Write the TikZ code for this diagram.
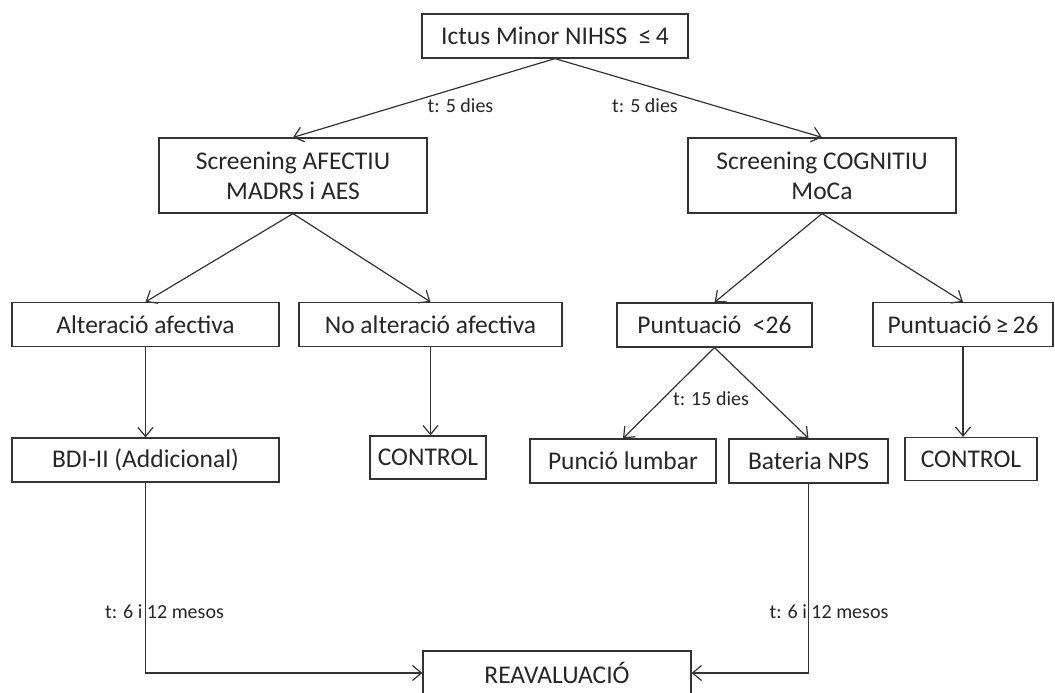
\documentclass[tikz,border=0pt]{standalone}
\usepackage{fontspec}
\setmainfont{Carlito}
\usetikzlibrary{arrows.meta}
\begin{document}
\begin{tikzpicture}[x=1pt,y=-1pt,
  box/.style={draw=black!80, line width=1.2pt, minimum height=44pt, inner sep=0pt,
    align=center, font=\fontsize{25.5}{30}\selectfont, text=black!85},
  arr/.style={draw=black!80, line width=1.2pt, -{Straight Barb[length=9pt,width=15pt]}},
  lab/.style={font=\fontsize{20}{24}\selectfont, text=black!85, inner sep=0pt}]
\useasboundingbox (0,0) rectangle (1055,693);
\clip (0,0) rectangle (1055,693);

\node[box, minimum width=266pt] (top) at (555,36) {Ictus Minor NIHSS\ \ ≤\,4};
\node[box, minimum width=268pt, minimum height=75pt] (aff) at (293,175.5) {Screening AFECTIU\\MADRS i AES};
\node[box, minimum width=268pt, minimum height=75pt] (cog) at (822,175.5) {Screening COGNITIU\\MoCa};

\node[box, minimum width=267pt] (alt) at (145.5,324.5) {Alteració afectiva};
\node[box, minimum width=263pt] (noalt) at (430.5,324.5) {No alteració afectiva};
\node[box, minimum width=195pt] (p26) at (714.5,325) {Puntuació\ \ <26};
\node[box, minimum width=180pt] (pge) at (963,324.5) {Puntuació\,≥\,26};

\node[box, minimum width=267pt] (bdi) at (145.5,460) {BDI-II (Addicional)};
\node[box, minimum width=116pt, minimum height=43pt] (ctrlL) at (428,457.5) {CONTROL};
\node[box, minimum width=186pt] (lumb) at (623,461) {Punció lumbar};
\node[box, minimum width=159pt] (bat) at (808.5,461) {Bateria NPS};
\node[box, minimum width=132pt, minimum height=43pt] (ctrlR) at (971,459) {CONTROL};

\node[box, minimum width=268pt] (reav) at (557,673) {REAVALUACIÓ};

\draw[arr] (top.south) -- (aff.north);
\draw[arr] (top.south) -- (cog.north);
\draw[arr] (aff.south) -- (alt.north);
\draw[arr] (aff.south) -- (noalt.north);
\draw[arr] (cog.south) -- (p26.north);
\draw[arr] (cog.south) -- (pge.north);
\draw[arr] (alt.south) -- (bdi.north);
\draw[arr] (noalt.south) -- (noalt.south |- ctrlL.north);
\draw[arr] (p26.south) -- (lumb.north);
\draw[arr] (p26.south) -- (bat.north);
\draw[arr] (pge.south) -- (pge.south |- ctrlR.north);
\draw[arr] (bdi.south) |- (reav.west);
\draw[arr] (bat.south) |- (reav.east);

\node[lab] (l1) at (460.5,106) {t: 5 dies};
\node[lab] (l2) at (645,106) {t: 5 dies};
\node[lab] (l3) at (711,399) {t: 15 dies};
\node[lab] (l4) at (164.5,612) {t: 6 i 12 mesos};
\node[lab] (l5) at (829,612) {t: 6 i 12 mesos};
\end{tikzpicture}
\end{document}
